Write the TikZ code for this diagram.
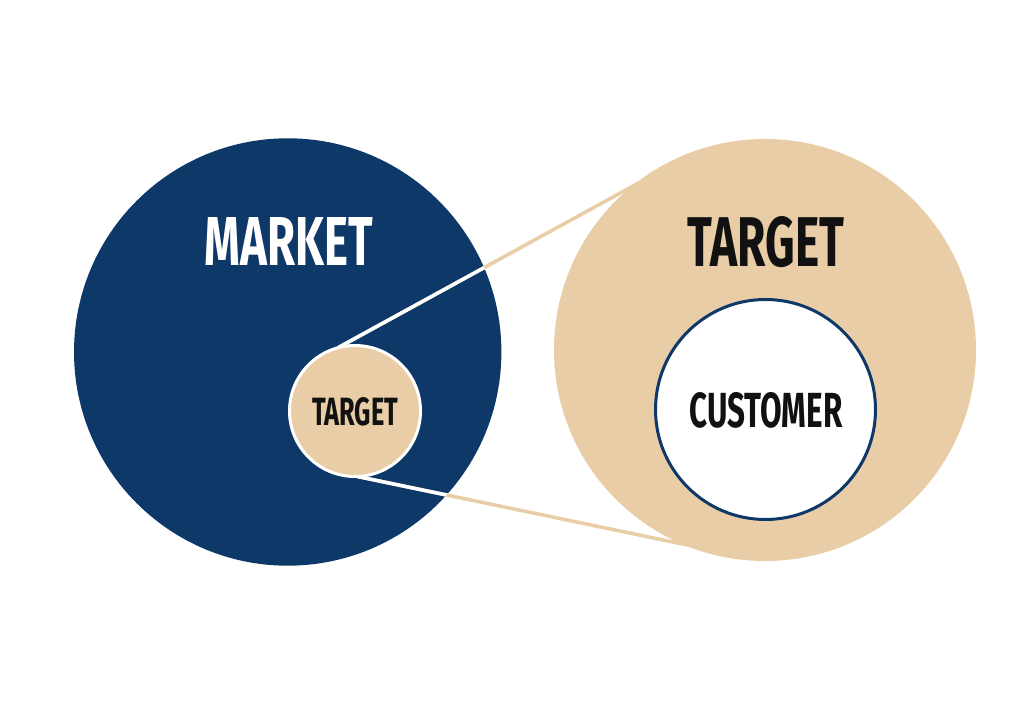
\documentclass[tikz,border=0pt]{standalone}
\usepackage{fontspec}
\setmainfont{Fira Sans}
\usepackage{graphicx}
\definecolor{navy}{RGB}{14,56,104}
\definecolor{sand}{RGB}{232,205,166}
\definecolor{ink}{RGB}{17,17,17}
\begin{document}
\begin{tikzpicture}[x=1pt,y=1pt,
  disc/.style={circle,inner sep=0pt,outer sep=0pt},
  tanline/.style={draw=sand,line width=3.5pt},
  whiteline/.style={draw=white,line width=3.5pt},
  label/.style={inner sep=0pt,font=\bfseries}]
  % canvas
  \fill[white] (0,0) rectangle (1024,706);
  \useasboundingbox (0,0) rectangle (1024,706);

  % the whole market
  \node[disc,fill=navy,minimum size=427.4pt] (market) at (287.7,354) {};
  % the target segment, enlarged
  \node[disc,fill=sand,minimum size=422pt] (target) at (765,356) {};
  % customer core
  \node[disc,fill=white,draw=navy,line width=3pt,minimum size=220pt] (customer) at (765.5,296.5) {};
  % target inside the market
  \node[disc,fill=sand,draw=white,line width=3pt,minimum size=131pt] (small) at (355,295) {};

  % end points just inside the enlarged target, near the tangent points
  \coordinate (t1) at (665,537.5);
  \coordinate (t2) at (721,154);

  % zoom lines: sand outside the market, white inside it
  \draw[tanline] (small.105) -- (t1);
  \draw[tanline] (small.272) -- (t2);
  \begin{scope}
    \clip (market.center) circle (213.7);
    \draw[whiteline] (small.105) -- (t1);
    \draw[whiteline] (small.272) -- (t2);
  \end{scope}

  % labels
  \node[label,text=white] (lmarket) at (289,464) {\resizebox{168pt}{48pt}{MARKET}};
  \node[label,text=ink] (ltarget) at (766,464) {\resizebox{156pt}{50pt}{TARGET}};
  \node[label,text=ink] (lsmall) at (355,294) {\resizebox{86pt}{28pt}{TARGET}};
  \node[label,text=ink] (lcustomer) at (766,296) {\resizebox{153pt}{35pt}{CUSTOMER}};
\end{tikzpicture}
\end{document}
